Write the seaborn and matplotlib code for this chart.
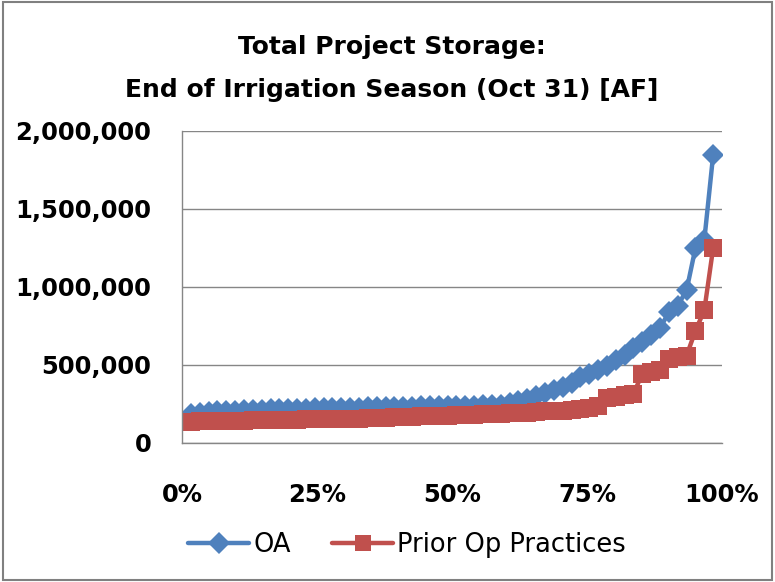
import matplotlib
matplotlib.use("Agg")
import matplotlib.pyplot as plt
import matplotlib.ticker as mticker
from matplotlib.patches import Rectangle
from matplotlib.lines import Line2D
import seaborn as sns
import pandas as pd

# ---- data ----
n_points = 60
exceedance = [i / (n_points + 1) for i in range(1, n_points + 1)]

oa = [186000, 195000, 200000, 203000, 206000, 208000, 210000, 212000, 214000, 215000,
      217000, 218000, 220000, 221000, 222000, 223000, 224000, 225000, 226000, 227000,
      228000, 229000, 230000, 231000, 232000, 233000, 234000, 235000, 236000, 237000,
      238000, 239000, 240000, 241000, 243000, 246000, 255000, 268000, 285000, 300000,
      320000, 340000, 360000, 385000, 420000, 445000, 470000, 495000, 530000, 565000,
      610000, 650000, 690000, 735000, 840000, 880000, 980000, 1250000, 1300000, 1846000]

prior = [135000, 138000, 140000, 141000, 142000, 143000, 144000, 145000, 146000, 147000,
         148000, 149000, 150000, 151000, 152000, 153000, 154000, 155000, 156000, 157000,
         158000, 160000, 162000, 164000, 166000, 168000, 170000, 172000, 174000, 176000,
         178000, 180000, 182000, 184000, 186000, 188000, 190000, 192000, 195000, 198000,
         202000, 205000, 208000, 212000, 218000, 225000, 235000, 290000, 295000, 305000,
         315000, 445000, 455000, 470000, 540000, 550000, 560000, 720000, 850000, 1250000]

series_names = ["OA", "Prior Op Practices"]
x_ticks = [0, 0.25, 0.5, 0.75, 1.0]
x_labels = ["0%", "25%", "50%", "75%", "100%"]
y_ticks = [0, 500000, 1000000, 1500000, 2000000]

title_lines = ["Total Project Storage:", "End of Irrigation Season (Oct 31) [AF]"]

df = pd.DataFrame({
    "x": exceedance * 2,
    "y": oa + prior,
    "series": [series_names[0]] * n_points + [series_names[1]] * n_points,
})

# ---- style ----
sns.set_style("white")
plt.rcParams["font.family"] = ["DejaVu Sans"]
plt.rcParams["text.color"] = "black"
plt.rcParams["xtick.color"] = "black"
plt.rcParams["ytick.color"] = "black"

blue = "#4F81BD"
red = "#C0504D"
grid_col = "#868686"

fig = plt.figure(figsize=(7.75, 5.82), dpi=100)
ax = fig.add_axes([182 / 775, 1 - 443 / 582, (722 - 182) / 775, (443 - 131) / 582])

sns.lineplot(data=df, x="x", y="y", hue="series", style="series",
             palette={series_names[0]: blue, series_names[1]: red},
             markers={series_names[0]: "D", series_names[1]: "s"},
             dashes=False, linewidth=3.2, markersize=12.5, markeredgewidth=0,
             ax=ax, legend=False, sort=False)
# squares slightly larger than diamonds
for line in ax.lines:
    if line.get_marker() == "s":
        line.set_markersize(13.5)
    elif line.get_marker() == "D":
        line.set_markersize(11.5)

ax.set_xlim(0, 1)
ax.set_ylim(0, 2000000)
ax.set_xticks(x_ticks)
ax.set_xticklabels(x_labels)
ax.set_yticks(y_ticks)
ax.yaxis.set_major_formatter(mticker.FuncFormatter(lambda v, p: f"{int(v):,}"))
ax.set_xlabel("")
ax.set_ylabel("")

ax.grid(axis="y", color=grid_col, linewidth=1.0)
ax.grid(axis="x", visible=False)
ax.set_axisbelow(True)
for s in ["top", "right"]:
    ax.spines[s].set_visible(False)
for s in ["left", "bottom"]:
    ax.spines[s].set_color(grid_col)
    ax.spines[s].set_linewidth(1.0)

ax.tick_params(axis="both", which="major", direction="out", length=7,
               width=1.0, color=grid_col, labelsize=17.5, labelcolor="black")
ax.tick_params(axis="y", pad=15)
ax.tick_params(axis="x", pad=22)
for lab in ax.get_xticklabels() + ax.get_yticklabels():
    lab.set_fontweight("bold")

fig.text(0.505, 1 - 47 / 582, title_lines[0], ha="center", va="center",
         fontsize=18, fontweight="bold")
fig.text(0.505, 1 - 90 / 582, title_lines[1], ha="center", va="center",
         fontsize=18, fontweight="bold")

handles = [
    Line2D([0], [0], color=blue, marker="D", markersize=11, linewidth=3.2, markeredgewidth=0),
    Line2D([0], [0], color=red, marker="s", markersize=12, linewidth=3.2, markeredgewidth=0),
]
fig.legend(handles, series_names, loc="center", bbox_to_anchor=(0.525, 1 - 545 / 582),
           ncol=2, frameon=False, fontsize=18.5, handlelength=2.4,
           columnspacing=1.6, handletextpad=0.15)

fig.add_artist(Rectangle((0.004, 0.004), 0.992, 0.992, transform=fig.transFigure,
                         fill=False, edgecolor="#808080", linewidth=1.5))

fig.savefig("out.png", dpi=100)
